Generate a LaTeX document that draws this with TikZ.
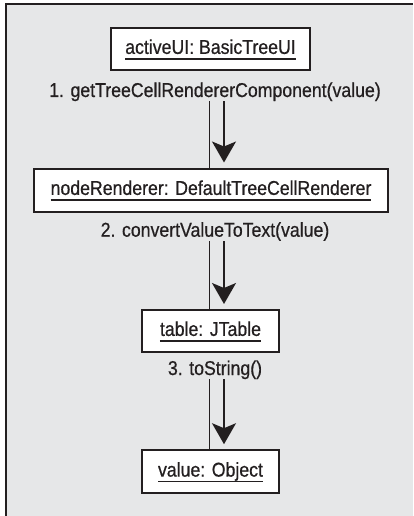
\documentclass[tikz,border=0pt]{standalone}
\usepackage{fontspec}
\setmainfont{Liberation Sans}[FakeStretch=0.885,FakeBold=0.6]
\usetikzlibrary{arrows.meta}
\definecolor{bggray}{HTML}{E6E7E8}
\definecolor{ink}{HTML}{231F20}
\newcommand\myul[1]{\setbox0\hbox{#1}\rlap{\vrule height -4.4pt depth 5.7pt width \wd0}\box0}
\tikzset{
  objbox/.style={draw=ink, line width=2pt, fill=white, inner sep=0pt,
    minimum height=43pt, text height=14.3pt, text depth=4.5pt, text=ink,
    font=\fontsize{20}{22}\selectfont},
  msglabel/.style={inner sep=0pt, anchor=base, text=ink,
    font=\fontsize{20}{22}\selectfont},
  linkline/.style={draw=ink, line width=1.5pt},
  msgarrow/.style={draw=ink, line width=1.5pt,
    -{Stealth[length=21pt,width=24pt,inset=5pt]}, shorten >=5pt}
}
\begin{document}
\begin{tikzpicture}[x=1pt,y=-1pt]
\useasboundingbox (0,0) rectangle (413,516);
\fill[bggray] (6,4) rectangle (413,516);
\draw[ink, line width=2pt] (6,516) -- (6,4) -- (413,4);

\node[objbox, minimum width=199pt, minimum height=42pt] (b1) at (210.5,49) {\myul{activeUI: BasicTreeUI}};
\node[objbox, minimum width=354pt] (b2) at (211,190) {\myul{nodeRenderer: DefaultTreeCellRenderer}};
\node[objbox, minimum width=137pt, minimum height=42pt] (b3) at (210.5,331) {\myul{table: JTable}};
\node[objbox, minimum width=137pt] (b4) at (210.5,471.7) {\myul{value: Object}};

\node[msglabel] (l1) at (215,97) {1. getTreeCellRendererComponent(value)};
\node[msglabel] (l2) at (215,236.7) {2. convertValueToText(value)};
\node[msglabel] (l3) at (215,375) {3. toString()};

\draw[linkline] ([xshift=-1pt]b1.south |- l1.south) -- ([xshift=-1pt]b2.north -| b1.south);
\draw[msgarrow] ([xshift=13.5pt]b1.south |- l1.south) -- ([xshift=13.5pt]b2.north -| b1.south);

\draw[linkline] ([xshift=-1pt]b3.north |- l2.south) -- ([xshift=-1pt]b3.north);
\draw[msgarrow] ([xshift=13.5pt]b3.north |- l2.south) -- ([xshift=13.5pt]b3.north);

\draw[linkline] ([xshift=-1pt]b4.north |- l3.south) -- ([xshift=-1pt]b4.north);
\draw[msgarrow] ([xshift=13.5pt]b4.north |- l3.south) -- ([xshift=13.5pt]b4.north);
\end{tikzpicture}
\end{document}
